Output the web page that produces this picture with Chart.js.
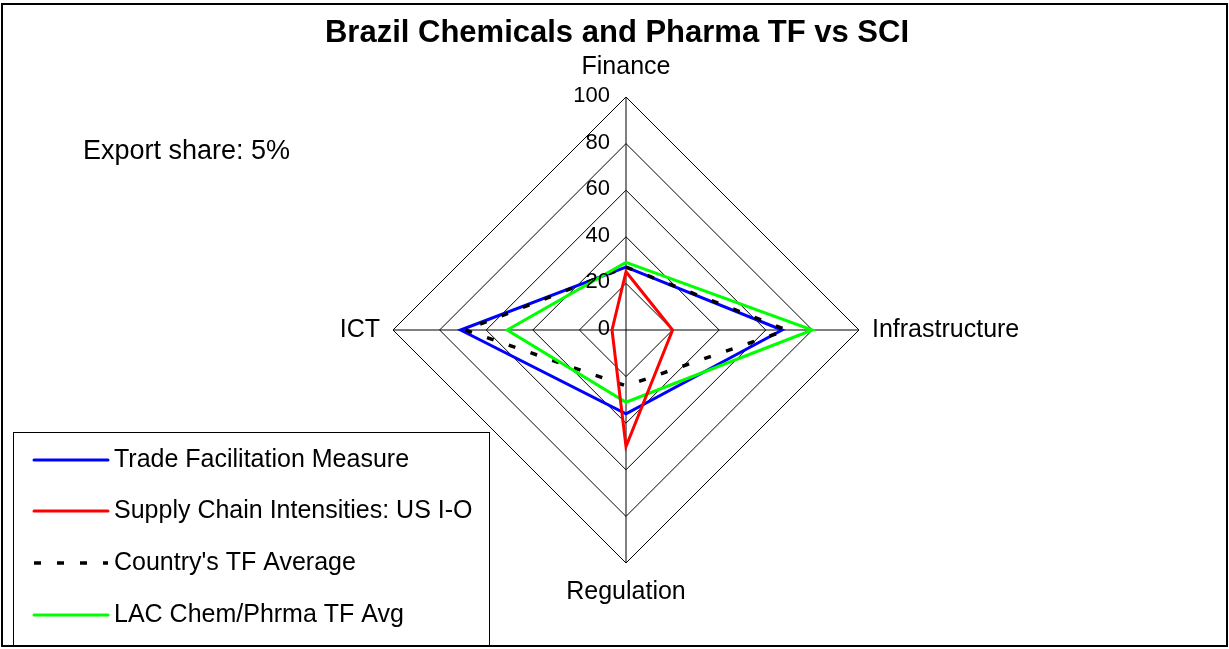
<!DOCTYPE html>
<html>
<head>
<meta charset="utf-8">
<script src="https://cdn.jsdelivr.net/npm/chart.js@4"></script>
<style>
  html, body { margin: 0; padding: 0; background: #fff; }
  #wrap { position: relative; width: 1229px; height: 649px; }
</style>
</head>
<body>
<div id="wrap"><canvas id="tf_chart" width="1229" height="649"></canvas></div>
<script>
const categories = ["Finance", "Infrastructure", "Regulation", "ICT"];
const tfMeasure = [27, 67, 36, 71];
const supplyChain = [25, 20, 50, 6];
const countryAvg = [27, 69, 24, 69];
const lacAvg = [29, 80, 31, 51];
const tickValues = [0, 20, 40, 60, 80, 100];

const FONT = "'Liberation Sans', Arial, sans-serif";

// point labels, tick labels, notes, frame and legend box
const decorations = {
  id: "decorations",
  afterDraw(chart) {
    const ctx = chart.ctx;
    const r = chart.scales.r;
    ctx.save();
    ctx.fillStyle = "#000";
    ctx.textBaseline = "middle";

    // tick labels, right aligned just left of the vertical axis
    ctx.font = "22px " + FONT;
    ctx.textAlign = "right";
    tickValues.forEach(function (v) {
      const d = r.getDistanceFromCenterForValue(v);
      ctx.fillText(String(v), r.xCenter - 16, r.yCenter - d - 1);
    });

    // category labels
    ctx.font = "25px " + FONT;
    const outer = r.getDistanceFromCenterForValue(100);
    ctx.textAlign = "center";
    ctx.fillText(categories[0], r.xCenter, r.yCenter - outer - 30);
    ctx.fillText(categories[2], r.xCenter, r.yCenter + outer + 29);
    ctx.textAlign = "left";
    ctx.fillText(categories[1], r.xCenter + outer + 13, r.yCenter);
    ctx.textAlign = "right";
    ctx.fillText(categories[3], r.xCenter - outer - 13, r.yCenter);

    // title
    ctx.textAlign = "center";
    ctx.font = "bold 31px " + FONT;
    ctx.fillText("Brazil Chemicals and Pharma TF vs SCI", 617, 33);

    // note
    ctx.textAlign = "left";
    ctx.font = "27px " + FONT;
    ctx.fillText("Export share: 5%", 83, 152);

    // legend box
    ctx.font = "25px " + FONT;
    ctx.strokeStyle = "#000";
    ctx.lineWidth = 1;
    ctx.strokeRect(13.5, 432.5, 476, 214);
    const rows = [460, 511, 563, 615];
    chart.data.datasets.forEach(function (ds, i) {
      ctx.beginPath();
      ctx.strokeStyle = ds.borderColor;
      ctx.lineWidth = ds.borderWidth;
      ctx.lineCap = ds.borderDash ? "butt" : "round";
      ctx.setLineDash(ds.borderDash || []);
      ctx.moveTo(34, rows[i]);
      ctx.lineTo(108, rows[i]);
      ctx.stroke();
      ctx.setLineDash([]);
      ctx.fillStyle = "#000";
      ctx.fillText(ds.label, 114, rows[i]);
    });

    // outer frame
    ctx.strokeStyle = "#000";
    ctx.lineWidth = 2;
    ctx.strokeRect(2, 4, 1225, 642);
    ctx.restore();
  },
};

const chart = new Chart(document.getElementById("tf_chart"), {
  type: "radar",
  data: {
    labels: categories,
    datasets: [
      {
        label: "Trade Facilitation Measure",
        data: tfMeasure,
        borderColor: "#0000ff",
        borderWidth: 3,
        order: 3,
      },
      {
        label: "Supply Chain Intensities: US I-O",
        data: supplyChain,
        borderColor: "#ff0000",
        borderWidth: 3,
        order: 0,
      },
      {
        label: "Country's TF Average",
        data: countryAvg,
        borderColor: "#000000",
        borderWidth: 3.5,
        borderDash: [7, 16],
        order: 2,
      },
      {
        label: "LAC Chem/Phrma TF Avg",
        data: lacAvg,
        borderColor: "#00ff00",
        borderWidth: 3,
        order: 1,
      },
    ],
  },
  options: {
    responsive: false,
    animation: false,
    layout: {
      padding: { top: 96, bottom: 85, left: 393, right: 369 },
    },
    elements: {
      line: { fill: false, tension: 0, borderJoinStyle: "miter" },
      point: { radius: 0, hoverRadius: 0 },
    },
    plugins: {
      legend: { display: false },
      tooltip: { enabled: false },
    },
    scales: {
      r: {
        min: 0,
        max: 100,
        ticks: { display: false, stepSize: 20 },
        pointLabels: { display: false },
        grid: { color: "#000", lineWidth: 1 },
        angleLines: { color: "#000", lineWidth: 1 },
      },
    },
  },
  plugins: [decorations],
});
</script>
</body>
</html>
